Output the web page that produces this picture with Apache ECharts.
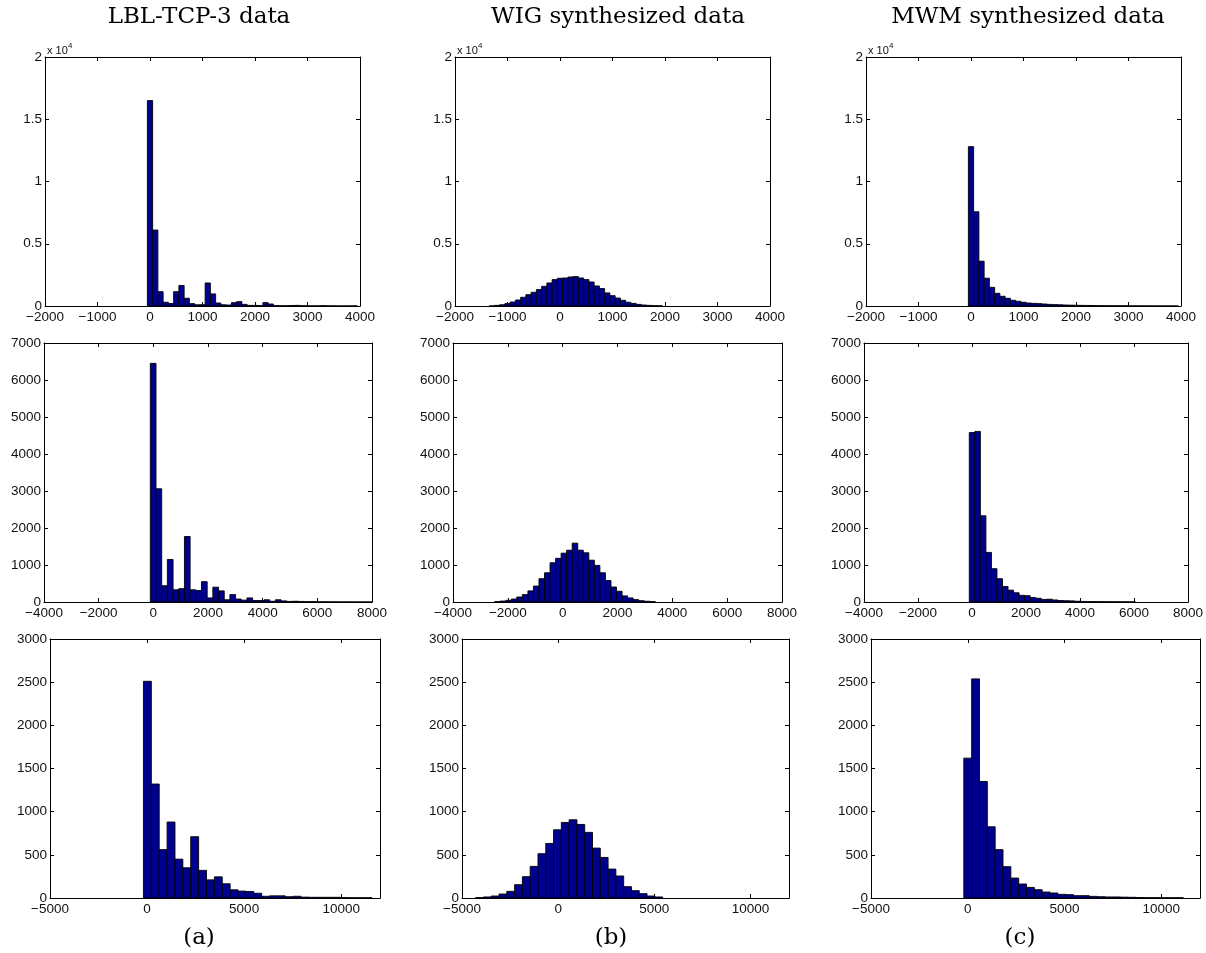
<!DOCTYPE html>
<html>
<head>
<meta charset="utf-8">
<script src="https://cdn.jsdelivr.net/npm/echarts@6/dist/echarts.min.js"></script>
<style>
html,body{margin:0;padding:0;background:#ffffff;}
#chart{width:1206px;height:953px;}
</style>
</head>
<body>
<div id="chart"></div>
<script>
// ---------- texts ----------
const columnTitles = ['LBL-TCP-3 data', 'WIG synthesized data', 'MWM synthesized data'];
const panelLabels = ['(a)', '(b)', '(c)'];

// ---------- row 1 histograms (counts per bin) ----------
const lblRow1BinStart = -50, lblRow1BinWidth = 100;
const lblRow1Counts = [16500, 6100, 1150, 300, 200, 1150, 1650, 620, 190, 100, 100, 1850, 970, 240, 100, 80, 270, 350, 130, 50,
  50, 30, 270, 160, 30, 20, 20, 40, 50, 20, 10, 10, 10, 30, 10, 10, 5, 5, 5, 10];
const wigRow1BinStart = -1350, wigRow1BinWidth = 100;
const wigRow1Counts = [5, 50, 100, 190, 320, 480, 700, 910, 1100, 1320, 1580, 1850, 2120, 2230, 2250, 2330, 2360, 2250, 2120, 1930,
  1610, 1400, 1050, 830, 640, 460, 300, 210, 130, 80, 50, 25, 15];
const mwmRow1BinStart = -50, mwmRow1BinWidth = 100;
const mwmRow1Counts = [12800, 7570, 3600, 2230, 1500, 1020, 780, 620, 460, 380, 300, 240, 210, 190, 160, 130, 110, 100, 80, 70,
  60, 50, 45, 40, 30, 25, 20, 20, 15, 15, 10, 10, 8, 8, 5, 5, 5, 3, 3, 2];

// ---------- row 2 ----------
const lblRow2BinStart = -110, lblRow2BinWidth = 208;
const lblRow2Counts = [6450, 3060, 440, 1150, 330, 360, 1770, 330, 310, 550, 110, 400, 300, 60, 200, 80, 50, 110, 40, 40,
  60, 20, 60, 30, 15, 20, 15, 10, 10, 5, 5, 3, 3, 2, 2, 2, 1, 1, 1, 1];
const wigRow2BinStart = -2480, wigRow2BinWidth = 202;
const wigRow2Counts = [10, 25, 45, 80, 135, 200, 300, 430, 630, 790, 1060, 1180, 1320, 1400, 1590, 1400, 1330, 1130, 990, 790,
  580, 405, 290, 165, 110, 65, 35, 20, 10];
const mwmRow2BinStart = -100, mwmRow2BinWidth = 205;
const mwmRow2Counts = [4580, 4610, 2330, 1340, 900, 630, 420, 320, 250, 180, 170, 120, 100, 70, 75, 55, 40, 35, 30, 20,
  15, 12, 10, 8, 8, 6, 5, 5, 4, 3];

// ---------- row 3 ----------
const lblRow3BinStart = -186, lblRow3BinWidth = 406;
const lblRow3Counts = [2510, 1320, 560, 880, 450, 350, 710, 320, 210, 245, 165, 95, 80, 75, 55, 20, 25, 25, 15, 20,
  10, 8, 8, 8, 8, 5, 3, 3, 3];
const wigRow3BinStart = -4290, wigRow3BinWidth = 405;
const wigRow3Counts = [5, 12, 23, 46, 77, 154, 247, 366, 513, 632, 790, 875, 906, 852, 760, 578, 470, 335, 255, 131,
  85, 50, 23, 12];
const mwmRow3BinStart = -204, mwmRow3BinWidth = 405;
const mwmRow3Counts = [1620, 2538, 1350, 825, 560, 363, 231, 162, 123, 96, 69, 58, 42, 39, 27, 27, 19, 15, 12, 12,
  10, 8, 5, 4, 4, 3, 3, 3];

// ---------- axis scales per row ----------
const rowXMin = [-2000, -4000, -5000];
const rowXMax = [4000, 8000, 12000];
const rowXStep = [1000, 2000, 5000];
const rowYMax = [20000, 7000, 3000];
const rowYStep = [5000, 1000, 500];
const rowYDivisor = [10000, 1, 1];

// ---------- layout (pixels) ----------
const rowTop = [57, 343, 639];
const rowHeight = [249, 259, 259];
const gridLeft = [[45, 455, 866], [44, 453, 864], [50, 462, 871]];
const gridWidth = [[315, 315, 315], [328, 329, 329], [330, 327, 329]];
const titleX = [199, 618, 1028];
const labelX = [199, 611, 1020];

const panels = [
  [[lblRow1BinStart, lblRow1BinWidth, lblRow1Counts], [wigRow1BinStart, wigRow1BinWidth, wigRow1Counts], [mwmRow1BinStart, mwmRow1BinWidth, mwmRow1Counts]],
  [[lblRow2BinStart, lblRow2BinWidth, lblRow2Counts], [wigRow2BinStart, wigRow2BinWidth, wigRow2Counts], [mwmRow2BinStart, mwmRow2BinWidth, mwmRow2Counts]],
  [[lblRow3BinStart, lblRow3BinWidth, lblRow3Counts], [wigRow3BinStart, wigRow3BinWidth, wigRow3Counts], [mwmRow3BinStart, mwmRow3BinWidth, mwmRow3Counts]]
];

const tickFont = 'Liberation Sans, Arial, Helvetica, sans-serif';
const serifFont = 'DejaVu Serif, serif';
const barFill = '#00008f';
const labelColor = '#111111';

function fmtNum(v) {
  return v < 0 ? '\u2212' + Math.abs(v) : String(v);
}

const grids = [], xAxes = [], yAxes = [], series = [], graphics = [];

for (let r = 0; r < 3; r++) {
  for (let c = 0; c < 3; c++) {
    const gi = grids.length;
    grids.push({left: gridLeft[r][c], top: rowTop[r], width: gridWidth[r][c], height: rowHeight[r], containLabel: false});
    const xStep = rowXStep[r], yStep = rowYStep[r], div = rowYDivisor[r];
    const axLine = {show: true, onZero: false, lineStyle: {color: '#000', width: 1}};
    const axTick = {show: true, inside: true, length: 4, lineStyle: {color: '#000', width: 1}};
    const baseX = {gridIndex: gi, type: 'value', min: rowXMin[r], max: rowXMax[r], interval: xStep,
      axisLine: axLine, axisTick: axTick, splitLine: {show: false}};
    xAxes.push(Object.assign({}, baseX, {position: 'bottom',
      axisLabel: {show: true, margin: 4, fontSize: 13.5, color: labelColor, fontFamily: tickFont,
        showMinLabel: true, showMaxLabel: true,
        formatter: v => (Math.abs(v % xStep) < 1e-9 ? fmtNum(v) : '')}}));
    xAxes.push(Object.assign({}, baseX, {position: 'top', axisLabel: {show: false}}));
    const baseY = {gridIndex: gi, type: 'value', min: 0, max: rowYMax[r], interval: yStep,
      axisLine: axLine, axisTick: axTick, splitLine: {show: false}};
    yAxes.push(Object.assign({}, baseY, {position: 'left',
      axisLabel: {show: true, margin: 3, fontSize: 13.5, color: labelColor, fontFamily: tickFont,
        formatter: v => String(v / div)}}));
    yAxes.push(Object.assign({}, baseY, {position: 'right', axisLabel: {show: false}}));

    const [start, width, counts] = panels[r][c];
    const data = counts.map((n, i) => [start + i * width, start + (i + 1) * width, n]);
    series.push({
      type: 'custom',
      xAxisIndex: 2 * gi,
      yAxisIndex: 2 * gi,
      clip: true,
      silent: true,
      encode: {x: [0, 1], y: 2},
      data: data,
      renderItem: function (params, api) {
        const p0 = api.coord([api.value(0), api.value(2)]);
        const p1 = api.coord([api.value(1), 0]);
        return {
          type: 'rect',
          shape: {x: p0[0], y: p0[1], width: p1[0] - p0[0], height: p1[1] - p0[1]},
          style: {fill: barFill, stroke: '#000', lineWidth: 0.9}
        };
      }
    });

    if (r === 0) {
      // "x 10^4" exponent label above the y axis
      graphics.push({type: 'text', x: gridLeft[r][c] + 2, y: rowTop[r] - 1,
        style: {text: 'x 10', font: '11px ' + tickFont, fill: labelColor, textVerticalAlign: 'bottom'}});
      graphics.push({type: 'text', x: gridLeft[r][c] + 23, y: rowTop[r] - 7,
        style: {text: '4', font: '8px ' + tickFont, fill: labelColor, textVerticalAlign: 'bottom'}});
    }
  }
}

for (let c = 0; c < 3; c++) {
  graphics.push({type: 'text', x: titleX[c], y: 17,
    style: {text: columnTitles[c], font: '23px ' + serifFont, fill: '#000', textAlign: 'center', textVerticalAlign: 'middle'}});
  graphics.push({type: 'text', x: labelX[c], y: 938,
    style: {text: panelLabels[c], font: '23px ' + serifFont, fill: '#000', textAlign: 'center', textVerticalAlign: 'middle'}});
}

const chart = echarts.init(document.getElementById('chart'), null, {renderer: 'canvas'});
chart.setOption({
  animation: false,
  backgroundColor: '#ffffff',
  grid: grids,
  xAxis: xAxes,
  yAxis: yAxes,
  series: series,
  graphic: graphics
});
</script>
</body>
</html>
